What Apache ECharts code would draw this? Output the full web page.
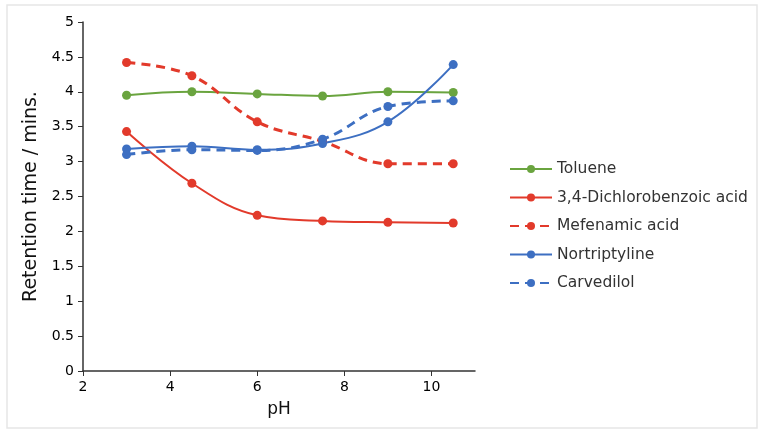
<!DOCTYPE html>
<html>
<head>
<meta charset="utf-8">
<script src="https://cdn.jsdelivr.net/npm/echarts@6/dist/echarts.min.js"></script>
<style>html,body{margin:0;padding:0;background:#fff;}#c{width:768px;height:432px;}</style>
</head>
<body>
<div id="c"></div>
<script>
const pH = [3, 4.5, 6, 7.5, 9, 10.5];
const toluene = [3.95, 4.00, 3.97, 3.94, 4.00, 3.99];
const dichloro = [3.43, 2.69, 2.23, 2.15, 2.13, 2.12];
const mefenamic = [4.42, 4.23, 3.57, 3.29, 2.97, 2.97];
const nortriptyline = [3.18, 3.22, 3.17, 3.26, 3.57, 4.39];
const carvedilol = [3.10, 3.17, 3.16, 3.32, 3.79, 3.87];
const xTicks = [2, 4, 6, 8, 10];

const GREEN = '#6aa43f', RED = '#e23a2b', BLUE = '#3d6fc2';
const FONT = '"DejaVu Sans","Open Sans",sans-serif';
function pair(ys){ return pH.map((x,i)=>[x, ys[i]]); }
function mk(name, ys, color, dashed){
  return {
    name, type:'line', data: pair(ys), smooth: 0.4,
    symbol:'circle', symbolSize: 9,
    itemStyle:{color},
    lineStyle:{color, width: dashed?3:2, type: dashed?[9,6]:'solid'},
    emphasis:{disabled:true}
  };
}
const chart = echarts.init(document.getElementById('c'));
chart.setOption({
  animation:false,
  graphic:[{type:'rect', shape:{x:7,y:5,width:750,height:423}, style:{fill:'none', stroke:'#e6e6e6', lineWidth:1.5}, silent:true}],
  grid:{left:83, right:293, top:22, bottom:61},
  legend:{
    orient:'vertical', left:504, top:156, itemGap:12.5, itemWidth:42, itemHeight:10,
    textStyle:{fontSize:15.5, color:'#333', fontFamily:FONT},
    data:['Toluene','3,4-Dichlorobenzoic acid','Mefenamic acid','Nortriptyline','Carvedilol']
  },
  xAxis:{
    type:'value', min:2, max:11, interval:2,
    name:'pH', nameLocation:'middle', nameGap:30,
    nameTextStyle:{fontSize:17, color:'#111', fontFamily:FONT},
    axisLine:{lineStyle:{color:'#333', width:1.5}},
    axisTick:{show:true, length:5, lineStyle:{color:'#333'}, customValues: xTicks},
    axisLabel:{fontSize:14, color:'#000', margin:9, fontFamily:FONT, customValues: xTicks},
    splitLine:{show:false}
  },
  yAxis:{
    type:'value', min:0, max:5, interval:0.5,
    name:'Retention time / mins.', nameLocation:'middle', nameGap:41,
    nameTextStyle:{fontSize:19, color:'#111', fontFamily:FONT},
    axisLine:{show:true, lineStyle:{color:'#333', width:1.5}},
    axisTick:{show:true, length:5, lineStyle:{color:'#333'}},
    axisLabel:{fontSize:14, color:'#000', margin:9, fontFamily:FONT},
    splitLine:{show:false}
  },
  series:[
    mk('Toluene', toluene, GREEN, false),
    mk('3,4-Dichlorobenzoic acid', dichloro, RED, false),
    mk('Mefenamic acid', mefenamic, RED, true),
    mk('Nortriptyline', nortriptyline, BLUE, false),
    mk('Carvedilol', carvedilol, BLUE, true)
  ]
});
</script>
</body>
</html>
